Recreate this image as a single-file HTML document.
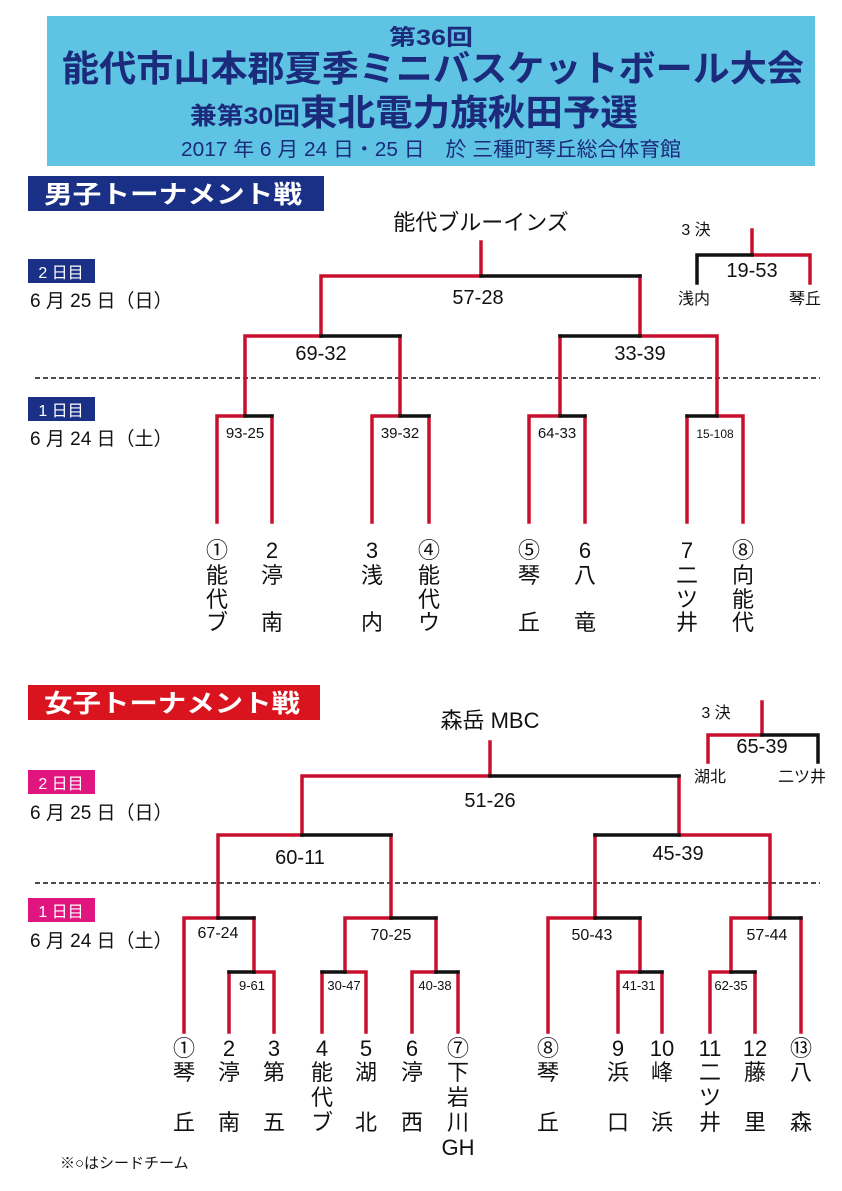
<!DOCTYPE html>
<html><head><meta charset="utf-8"><style>
html,body{margin:0;padding:0;background:#fff}
svg{display:block}
text{font-family:"Liberation Sans","Noto Sans CJK JP",sans-serif}
</style></head><body>
<svg width="842" height="1191" viewBox="0 0 842 1191" xmlns="http://www.w3.org/2000/svg">
<!-- header -->
<rect x="47" y="16" width="768" height="150" fill="#5fc3e4"/>
<g fill="#1b2a7a" font-weight="bold" text-anchor="middle">
<text x="431" y="45" font-size="22" textLength="84" lengthAdjust="spacingAndGlyphs">第36回</text>
<text x="433" y="81" font-size="36" textLength="742" lengthAdjust="spacingAndGlyphs">能代市山本郡夏季ミニバスケットボール大会</text>
<text x="245" y="124" font-size="24" textLength="110" lengthAdjust="spacingAndGlyphs">兼第30回</text>
<text x="469" y="125" font-size="36" textLength="338" lengthAdjust="spacingAndGlyphs">東北電力旗秋田予選</text>
</g>
<text x="431" y="156" font-size="20" fill="#1b2a7a" text-anchor="middle" textLength="500" lengthAdjust="spacingAndGlyphs">2017 年 6 月 24 日・25 日　於 三種町琴丘総合体育館</text>

<!-- male label -->
<rect x="28" y="176" width="296" height="35" fill="#1a2f86"/>
<text x="44" y="203" font-size="25" font-weight="bold" fill="#fff" textLength="258" lengthAdjust="spacingAndGlyphs">男子トーナメント戦</text>
<rect x="28" y="259" width="67" height="24" fill="#1a2f86"/>
<text x="61" y="278" font-size="16" fill="#fff" text-anchor="middle">2 日目</text>
<text x="30" y="307" font-size="19" fill="#111">6 月 25 日（日）</text>
<line x1="35" y1="378" x2="820" y2="378" stroke="#111" stroke-width="1.5" stroke-dasharray="5,3"/>
<rect x="28" y="397" width="67" height="24" fill="#1a2f86"/>
<text x="61" y="416" font-size="16" fill="#fff" text-anchor="middle">1 日目</text>
<text x="30" y="445" font-size="19" fill="#111">6 月 24 日（土）</text>
<text x="481" y="230" font-size="22" fill="#111" text-anchor="middle">能代ブルーインズ</text>

<g stroke-width="3.5" fill="none" stroke-linecap="square">
<!-- male final -->
<path d="M481 242V276H321V336M640 276V336" stroke="#c8102e"/>
<path d="M481 276H640" stroke="#111"/>
<!-- semis -->
<path d="M245 415V336H321M400 336V415" stroke="#c8102e"/>
<path d="M321 336H400" stroke="#111"/>
<path d="M560 415V336M640 336H717V415" stroke="#c8102e"/>
<path d="M560 336H640" stroke="#111"/>
<!-- first round -->
<path d="M217 522V416H245M272 416V522" stroke="#c8102e"/><path d="M245 416H272" stroke="#111"/>
<path d="M372 522V416H400M429 416V522" stroke="#c8102e"/><path d="M400 416H429" stroke="#111"/>
<path d="M529 522V416H560M585 416V522" stroke="#c8102e"/><path d="M560 416H585" stroke="#111"/>
<path d="M687 522V416M717 416H743V522" stroke="#c8102e"/><path d="M687 416H717" stroke="#111"/>
<!-- male 3rd -->
<path d="M752 230V255H810V283" stroke="#c8102e"/>
<path d="M697 283V255H752" stroke="#111"/>
</g>
<g fill="#111" text-anchor="middle">
<text x="478" y="304" font-size="20">57-28</text>
<text x="321" y="360" font-size="20">69-32</text>
<text x="640" y="360" font-size="20">33-39</text>
<text x="245" y="438" font-size="15">93-25</text>
<text x="400" y="438" font-size="15">39-32</text>
<text x="557" y="438" font-size="15">64-33</text>
<text x="715" y="438" font-size="12">15-108</text>
<text x="696" y="235" font-size="16">3 決</text>
<text x="752" y="277" font-size="20">19-53</text>
<text x="694" y="304" font-size="16">浅内</text>
<text x="805" y="304" font-size="16">琴丘</text>
</g>
<g fill="#111" text-anchor="middle" font-size="22">
<text x="217" y="558">①</text><text x="217" y="583">能</text><text x="217" y="607">代</text><text x="217" y="630">ブ</text>
<text x="272" y="558">2</text><text x="272" y="583">渟</text><text x="272" y="630">南</text>
<text x="372" y="558">3</text><text x="372" y="583">浅</text><text x="372" y="630">内</text>
<text x="429" y="558">④</text><text x="429" y="583">能</text><text x="429" y="607">代</text><text x="429" y="630">ウ</text>
<text x="529" y="558">⑤</text><text x="529" y="583">琴</text><text x="529" y="630">丘</text>
<text x="585" y="558">6</text><text x="585" y="583">八</text><text x="585" y="630">竜</text>
<text x="687" y="558">7</text><text x="687" y="583">二</text><text x="687" y="607">ツ</text><text x="687" y="630">井</text>
<text x="743" y="558">⑧</text><text x="743" y="583">向</text><text x="743" y="607">能</text><text x="743" y="630">代</text>
</g>

<!-- female label -->
<rect x="28" y="685" width="292" height="35" fill="#d9141e"/>
<text x="44" y="712" font-size="25" font-weight="bold" fill="#fff" textLength="256" lengthAdjust="spacingAndGlyphs">女子トーナメント戦</text>
<rect x="28" y="770" width="67" height="24" fill="#e0157f"/>
<text x="61" y="789" font-size="16" fill="#fff" text-anchor="middle">2 日目</text>
<text x="30" y="819" font-size="19" fill="#111">6 月 25 日（日）</text>
<line x1="35" y1="883" x2="820" y2="883" stroke="#111" stroke-width="1.5" stroke-dasharray="5,3"/>
<rect x="28" y="898" width="67" height="24" fill="#e0157f"/>
<text x="61" y="917" font-size="16" fill="#fff" text-anchor="middle">1 日目</text>
<text x="30" y="947" font-size="19" fill="#111">6 月 24 日（土）</text>
<text x="490" y="728" font-size="22" fill="#111" text-anchor="middle">森岳 MBC</text>

<g stroke-width="3.5" fill="none" stroke-linecap="square">
<path d="M490 742V776H302V835M679 776V835" stroke="#c8102e"/>
<path d="M490 776H679" stroke="#111"/>
<path d="M218 918V835H302M391 835V918" stroke="#c8102e"/>
<path d="M302 835H391" stroke="#111"/>
<path d="M595 918V835M679 835H770V918" stroke="#c8102e"/>
<path d="M595 835H679" stroke="#111"/>
<!-- quarter -->
<path d="M184 1032V918H218M254 918V972" stroke="#c8102e"/><path d="M218 918H254" stroke="#111"/>
<path d="M345 972V918H391M436 918V972" stroke="#c8102e"/><path d="M391 918H436" stroke="#111"/>
<path d="M548 1032V918H595M640 918V972" stroke="#c8102e"/><path d="M595 918H640" stroke="#111"/>
<path d="M731 972V918H770M801 918V1032" stroke="#c8102e"/><path d="M770 918H801" stroke="#111"/>
<!-- first round -->
<path d="M229 1032V972M254 972H274V1032" stroke="#c8102e"/><path d="M229 972H254" stroke="#111"/>
<path d="M322 1032V972M345 972H366V1032" stroke="#c8102e"/><path d="M322 972H345" stroke="#111"/>
<path d="M412 1032V972H436M458 972V1032" stroke="#c8102e"/><path d="M436 972H458" stroke="#111"/>
<path d="M618 1032V972H640M662 972V1032" stroke="#c8102e"/><path d="M640 972H662" stroke="#111"/>
<path d="M710 1032V972H731M755 972V1032" stroke="#c8102e"/><path d="M731 972H755" stroke="#111"/>
<!-- female 3rd -->
<path d="M762 702V735H708V762" stroke="#c8102e"/>
<path d="M762 735H818V762" stroke="#111"/>
</g>
<g fill="#111" text-anchor="middle">
<text x="490" y="807" font-size="20">51-26</text>
<text x="300" y="864" font-size="20">60-11</text>
<text x="678" y="860" font-size="20">45-39</text>
<text x="218" y="938" font-size="16">67-24</text>
<text x="391" y="940" font-size="16">70-25</text>
<text x="592" y="940" font-size="16">50-43</text>
<text x="767" y="940" font-size="16">57-44</text>
<text x="252" y="990" font-size="13">9-61</text>
<text x="344" y="990" font-size="13">30-47</text>
<text x="435" y="990" font-size="13">40-38</text>
<text x="639" y="990" font-size="13">41-31</text>
<text x="731" y="990" font-size="13">62-35</text>
<text x="716" y="718" font-size="16">3 決</text>
<text x="762" y="753" font-size="20">65-39</text>
<text x="710" y="782" font-size="16">湖北</text>
<text x="802" y="782" font-size="16">二ツ井</text>
</g>
<g fill="#111" text-anchor="middle" font-size="22">
<text x="184" y="1056">①</text><text x="184" y="1080">琴</text><text x="184" y="1130">丘</text>
<text x="229" y="1056">2</text><text x="229" y="1080">渟</text><text x="229" y="1130">南</text>
<text x="274" y="1056">3</text><text x="274" y="1080">第</text><text x="274" y="1130">五</text>
<text x="322" y="1056">4</text><text x="322" y="1080">能</text><text x="322" y="1105">代</text><text x="322" y="1130">ブ</text>
<text x="366" y="1056">5</text><text x="366" y="1080">湖</text><text x="366" y="1130">北</text>
<text x="412" y="1056">6</text><text x="412" y="1080">渟</text><text x="412" y="1130">西</text>
<text x="458" y="1056">⑦</text><text x="458" y="1080">下</text><text x="458" y="1105">岩</text><text x="458" y="1130">川</text><text x="458" y="1155">GH</text>
<text x="548" y="1056">⑧</text><text x="548" y="1080">琴</text><text x="548" y="1130">丘</text>
<text x="618" y="1056">9</text><text x="618" y="1080">浜</text><text x="618" y="1130">口</text>
<text x="662" y="1056">10</text><text x="662" y="1080">峰</text><text x="662" y="1130">浜</text>
<text x="710" y="1056">11</text><text x="710" y="1080">二</text><text x="710" y="1105">ツ</text><text x="710" y="1130">井</text>
<text x="755" y="1056">12</text><text x="755" y="1080">藤</text><text x="755" y="1130">里</text>
<text x="801" y="1056">⑬</text><text x="801" y="1080">八</text><text x="801" y="1130">森</text>
</g>
<text x="60" y="1168" font-size="15" fill="#111">※○はシードチーム</text>
</svg>
</body></html>
